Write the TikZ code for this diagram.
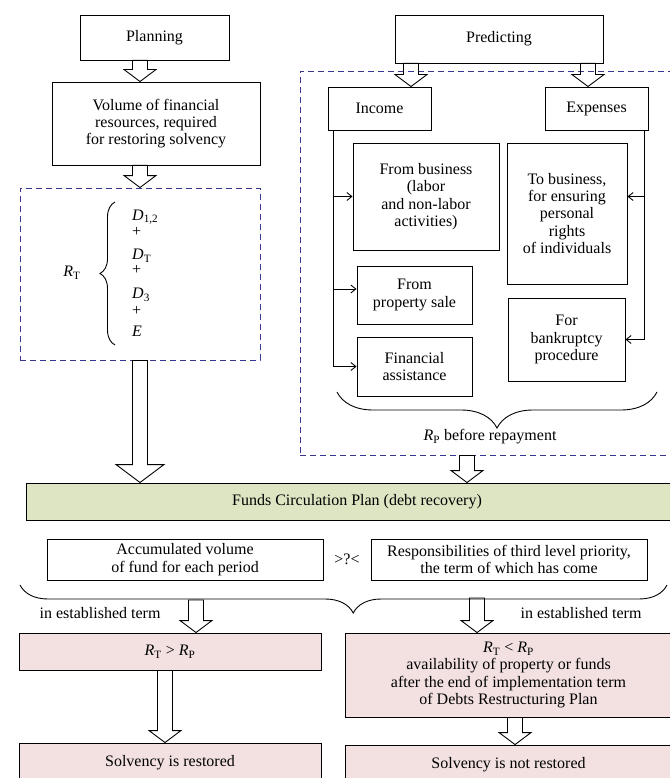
\documentclass[tikz,border=0pt]{standalone}
\usepackage{fontspec}
\setmainfont{Liberation Serif}
\usetikzlibrary{calc,decorations.pathreplacing,arrows.meta}
\definecolor{dashblue}{RGB}{55,55,145}
\definecolor{planfill}{RGB}{221,229,195}
\definecolor{resfill}{RGB}{243,225,226}
\newcommand{\RT}{\textit{R}\textsubscript{T}}
\newcommand{\RP}{\textit{R}\textsubscript{P}}
\newcommand{\fatarr}[3][16]{%
  \draw[fat] let \p1=(#2), \p2=(#3) in
    (\x1-7.5pt,\y1) -- (\x1-7.5pt,\y2+0.75*#1pt) -- (\x1-#1pt,\y2+0.75*#1pt)
    -- (\x1,\y2) -- (\x1+#1pt,\y2+0.75*#1pt) -- (\x1+7.5pt,\y2+0.75*#1pt)
    -- (\x1+7.5pt,\y1) -- cycle;}
\begin{document}
\begin{tikzpicture}[x=1pt,y=-1pt,
  font=\fontsize{16}{17.4}\selectfont,
  box/.style={draw,line width=0.9pt,align=center,inner sep=1pt},
  planbox/.style={box,fill=planfill},
  resbox/.style={box,fill=resfill},
  dashbox/.style={draw=dashblue,line width=0.9pt,dash pattern=on 6pt off 4pt},
  fat/.style={line width=0.9pt},
  tip/.style={line width=0.9pt,-{Straight Barb[length=5pt,width=8pt]}},
  curly/.style={line width=0.9pt,decorate,decoration={brace,#1}}]
\useasboundingbox (0,0) rectangle (669,778);
\node[dashbox,minimum width=240pt,minimum height=172pt] (dashL) at (140,274) {};
\node[dashbox,minimum width=400pt,minimum height=384pt] (dashR) at (500,263) {};
\node[box,minimum width=149pt,minimum height=45pt] (plan) at (154.5,37.5) {Planning};
\node[box,minimum width=208pt,minimum height=83pt] (vol) at (156,123.5) {Volume of financial\\resources, required\\for restoring solvency};
\node[box,minimum width=208pt,minimum height=48pt] (pred) at (499,39) {Predicting};
\node[box,minimum width=103pt,minimum height=43pt] (inc) at (379.5,108.5) {Income};
\node[box,minimum width=103pt,minimum height=43pt] (exp) at (596.5,108.5) {Expenses};
\node[box,minimum width=146pt,minimum height=107pt] (fbus) at (426,196.5) {From business\\(labor\\and non-labor\\activities)};
\node[box,minimum width=115pt,minimum height=58pt] (fprop) at (414.5,295) {From\\property sale};
\node[box,minimum width=115pt,minimum height=59pt] (fin) at (414.5,366.5) {Financial\\assistance};
\node[box,minimum width=120pt,minimum height=141pt] (tbus) at (567,213.5) {To business,\\for ensuring\\personal\\rights\\of individuals};
\node[box,minimum width=117pt,minimum height=83pt] (bank) at (566.5,339.5) {For\\bankruptcy\\procedure};
\coordinate (itrunk) at ([xshift=-46.5pt]inc.south);
\coordinate (etrunk) at ([xshift=47.5pt]exp.south);
\coordinate (propin) at ([yshift=6pt]fprop.west);
\draw[tip] (itrunk) |- (fin.west);
\draw[tip] (itrunk |- fbus.west) -- (fbus.west);
\draw[tip] (itrunk |- propin) -- (propin);
\draw[tip] (etrunk) |- (bank.east);
\draw[tip] (etrunk |- fbus.east) -- (tbus.east |- fbus.east);
\draw[curly={amplitude=36pt}] (657,392) -- (337,392);
\node (rplab) at (490,437) {\RP{} before repayment};
\node (rtlab) at (72,273) {\RT};
\draw[curly={amplitude=15pt}] (115,345) -- (115,202);
\foreach \yy/\txt [count=\k] in {217/{\textit{D}\textsubscript{1,2}},232/{+},256/{\textit{D}\textsubscript{T}},270/{+},295/{\textit{D}\textsubscript{3}},311/{+},331/{\textit{E}}}
  \node[anchor=west,inner sep=0pt] (sum\k) at (132,\yy) {\txt};
\node[planbox,minimum width=662pt,minimum height=37pt] (funds) at (357,501.5) {Funds Circulation Plan (debt recovery)};
\node[box,minimum width=276pt,minimum height=41pt] (acc) at (185,559.5) {Accumulated volume\\of fund for each period};
\node[box,minimum width=276pt,minimum height=41pt] (resp) at (509,559.5) {Responsibilities of third level priority,\\the term of which has come};
\node (cmp) at ($(acc.east)!0.5!(resp.west)$) {>?<};
\draw[curly={amplitude=28pt,aspect=0.485}] (667,585) -- (20,585);
\node (termL) at (100,613) {in established term};
\node (termR) at (581,613) {in established term};
\node[resbox,minimum width=302pt,minimum height=37pt] (rgt) at (170,651.5) {\RT{} > \RP};
\node[resbox,minimum width=327pt,minimum height=84pt] (rlt) at (508.5,675) {\RT{} < \RP\\availability of property or funds\\after the end of implementation term\\of Debts Restructuring Plan};
\node[resbox,minimum width=302pt,minimum height=40pt] (sr) at (170,763) {Solvency is restored};
\node[resbox,minimum width=327pt,minimum height=40pt] (snr) at (508.5,765) {Solvency is not restored};
\coordinate (brL) at (196,600);
\coordinate (brR) at (477,598);
\fatarr{[xshift=-14.5pt]plan.south}{vol.north}
\fatarr{[xshift=-16pt]vol.south}{dashL.north}
\fatarr[24]{dashL.south}{funds.north}
\fatarr{[xshift=-88pt]pred.south}{inc.north}
\fatarr{[xshift=89pt]pred.south}{exp.north}
\fatarr{[xshift=-33pt]dashR.south}{funds.north}
\fatarr{brL}{rgt.north}
\fatarr{brR}{rlt.north}
\fatarr{[xshift=-5pt]rgt.south}{sr.north}
\fatarr{[xshift=6.5pt]rlt.south}{snr.north}
\end{tikzpicture}
\end{document}
